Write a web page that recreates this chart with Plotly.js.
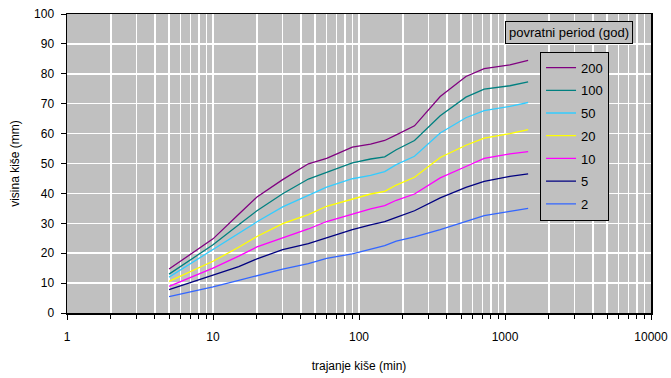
<!DOCTYPE html>
<html>
<head>
<meta charset="utf-8">
<script src="https://cdn.plot.ly/plotly-3.0.1.min.js"></script>
<style>html,body{margin:0;padding:0;background:#fff;}#chart{width:671px;height:378px;}</style>
</head>
<body>
<div id="chart"></div>
<script>
// Durations (min)
const durations = [5, 10, 15, 20, 30, 45, 60, 90, 120, 150, 180, 240, 360, 540, 720, 1080, 1440];
// Return periods (legend labels)
const periods = ["200", "100", "50", "20", "10", "5", "2"];
// Rainfall depth (mm) per return period
const p200 = [14.7, 24.8, 33.0, 38.8, 44.6, 49.9, 51.7, 55.5, 56.5, 57.7, 59.6, 62.6, 72.4, 79.1, 81.7, 83.0, 84.5];
const p100 = [13.0, 22.8, 29.5, 34.2, 39.9, 44.8, 47.0, 50.2, 51.5, 52.2, 54.6, 57.7, 66.0, 72.2, 74.9, 76.0, 77.3];
const p50  = [12.0, 21.2, 26.5, 30.5, 35.5, 39.3, 42.1, 44.9, 46.0, 47.3, 49.6, 52.4, 60.2, 65.3, 67.7, 69.1, 70.4];
const p20  = [10.6, 17.3, 22.0, 25.6, 29.9, 32.9, 35.7, 38.1, 39.8, 40.7, 42.8, 45.4, 52.0, 56.1, 58.5, 60.0, 61.3];
const p10  = [8.9, 15.0, 19.0, 22.1, 25.1, 28.1, 30.6, 33.2, 34.8, 35.9, 37.7, 39.8, 45.2, 49.0, 51.7, 53.2, 54.0];
const p5   = [7.8, 12.5, 15.5, 18.1, 21.2, 23.2, 25.2, 27.9, 29.5, 30.6, 32.0, 34.2, 38.5, 42.0, 44.0, 45.7, 46.5];
const p2   = [5.5, 8.7, 10.9, 12.5, 14.7, 16.5, 18.3, 19.8, 21.2, 22.5, 24.0, 25.5, 27.9, 30.6, 32.6, 34.0, 35.0];

const series = [p200, p100, p50, p20, p10, p5, p2];
const colors = ["#800080", "#008080", "#33ccff", "#ffff00", "#ff00ff", "#000080", "#3366ff"];

const FONT = "Liberation Sans, Arial, sans-serif";

const traces = series.map((ys, i) => ({
  x: durations,
  y: ys,
  type: "scatter",
  mode: "lines",
  name: periods[i],
  legendgroup: "g" + i,
  line: {color: colors[i], width: 1.3}
}));

const layout = {
  width: 671,
  height: 378,
  margin: {l: 67, r: 20, t: 14, b: 65},
  paper_bgcolor: "#ffffff",
  plot_bgcolor: "#c0c0c0",
  font: {family: FONT, size: 12, color: "#000"},
  showlegend: true,
  legend: {
    x: 0.81, y: 0.874, xanchor: "left", yanchor: "top",
    bgcolor: "#c0c0c0", bordercolor: "#000", borderwidth: 1,
    font: {family: FONT, size: 13, color: "#000"},
    tracegroupgap: 2.8,
    traceorder: "grouped"
  },
  xaxis: {
    type: "log",
    range: [0, 4],
    tickvals: [1, 10, 100, 1000, 10000],
    ticktext: ["1", "10", "100", "1000", "10000"],
    showgrid: true, gridcolor: "#ffffff", gridwidth: 1.5,
    minor: {dtick: "D1", showgrid: true, gridcolor: "#ffffff", gridwidth: 1.5, ticks: "outside", ticklen: 4, tickcolor: "#000"},
    ticks: "outside", ticklen: 5, tickcolor: "#000",
    showline: true, linecolor: "#000", linewidth: 1.5, mirror: true,
    zeroline: false,
    ticklabelstandoff: 7,
    tickfont: {family: FONT, size: 12},
    title: {text: "trajanje kiše (min)", font: {family: FONT, size: 12}, standoff: 18}
  },
  yaxis: {
    range: [0, 100],
    dtick: 10,
    showgrid: true, gridcolor: "#ffffff", gridwidth: 1.5,
    ticks: "outside", ticklen: 5, tickcolor: "#000",
    showline: true, linecolor: "#000", linewidth: 1.5, mirror: true,
    zeroline: false,
    ticklabelstandoff: 4,
    tickfont: {family: FONT, size: 12},
    title: {text: "visina kiše (mm)", font: {family: FONT, size: 12}, standoff: 12}
  },
  annotations: [{
    xref: "paper", yref: "paper",
    x: 0.859, y: 0.938, xanchor: "center", yanchor: "middle",
    text: "povratni period (god)",
    showarrow: false,
    bgcolor: "#c0c0c0", bordercolor: "#000", borderwidth: 1, borderpad: 3,
    font: {family: FONT, size: 13, color: "#000"}
  }]
};

Plotly.newPlot("chart", traces, layout, {displayModeBar: false, staticPlot: true});
</script>
</body>
</html>
